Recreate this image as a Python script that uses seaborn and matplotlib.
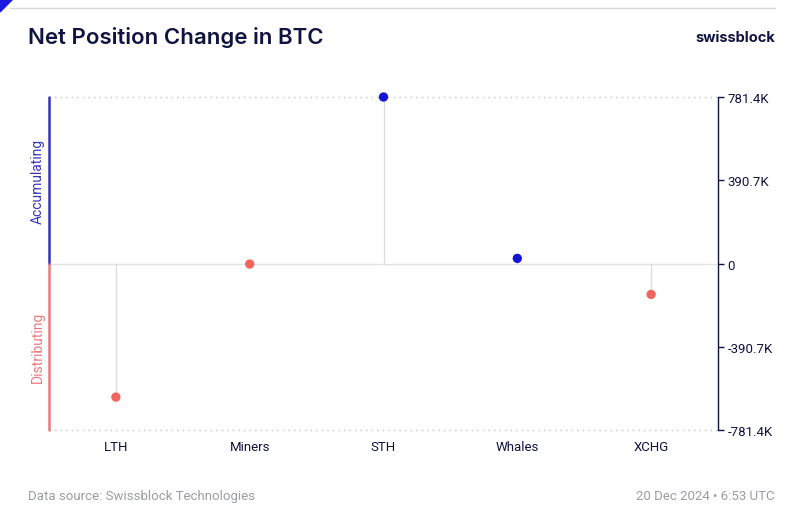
import numpy as np
import pandas as pd
import seaborn as sns
import matplotlib.pyplot as plt
from matplotlib.patches import Polygon
from matplotlib.lines import Line2D

# Data
categories = ["LTH", "Miners", "STH", "Whales", "XCHG"]
net_change = [-627000, -2500, 781400, 24000, -145000]
tick_labels = ["-781.4K", "-390.7K", "0", "390.7K", "781.4K"]

navy = "#10133f"
blue = "#1414d6"
red = "#f2645e"
grey_txt = "#9a9ca6"

df = pd.DataFrame({"group": categories, "change": net_change})
df["side"] = np.where(df["change"] > 0, "acc", "dist")

sns.set_theme(style="white")
plt.rcParams["font.family"] = ["Roboto", "DejaVu Sans"]

fig = plt.figure(figsize=(7.95, 5.1), dpi=100)
ax = fig.add_axes([49 / 795, 1 - 431 / 510, (718 - 49) / 795, (431 - 98) / 510])

ymax = max(abs(v) for v in net_change)

# stems and reference lines
ax.vlines(df["group"], 0, df["change"], color="#dcdde2", lw=1, zorder=1)
ax.axhline(0, color="#e1e2e6", lw=1, zorder=0)
for yv in (ymax, -ymax):
    ax.axhline(yv, color="#c4c5cc", lw=1, ls=(0, (1, 3)), zorder=0, clip_on=False)

sns.scatterplot(data=df, x="group", y="change", hue="side",
                palette={"acc": blue, "dist": red}, s=45, edgecolor="none",
                legend=False, ax=ax, zorder=3, clip_on=False)

ax.set_xlim(-0.5, len(categories) - 0.5)
ax.set_ylim(-ymax, ymax)
ax.set_xlabel("")
ax.set_ylabel("")

# right axis
ax.yaxis.tick_right()
ax.set_yticks(np.linspace(-ymax, ymax, 5))
ax.set_yticklabels(tick_labels)
ax.tick_params(axis="y", right=True, length=4, width=1, color=navy, pad=3,
               labelsize=9.5, labelcolor=navy)
ax.tick_params(axis="x", bottom=False, labelsize=9.5, labelcolor=navy, pad=1)

for s in ["top", "bottom", "left"]:
    ax.spines[s].set_visible(False)
ax.spines["right"].set_color(navy)
ax.spines["right"].set_linewidth(1)

# left split spine
ax.add_line(Line2D([0, 0], [0.5, 1], transform=ax.transAxes, color="#3535b8",
                   lw=1.8, clip_on=False))
ax.add_line(Line2D([0, 0], [0, 0.5], transform=ax.transAxes, color="#e87b7d",
                   lw=1.8, clip_on=False))
ax.text(-0.006, 0.75, "Accumulating", transform=ax.transAxes, rotation=90,
        ha="right", va="center", color="#3535b8", fontsize=10)
ax.text(-0.006, 0.25, "Distributing", transform=ax.transAxes, rotation=90,
        ha="right", va="center", color="#e87b7d", fontsize=10)

# header and footer
fig.text(28 / 795, 1 - 37 / 510, "Net Position Change in BTC", fontsize=16,
         fontweight="semibold", color=navy, va="center", ha="left",
         family=["Inter", "DejaVu Sans"])
fig.text(775 / 795, 1 - 38 / 510, "swissblock", fontsize=10.5, fontweight="bold",
         color=navy, va="center", ha="right", family=["Inter", "DejaVu Sans"])
fig.add_artist(Line2D([10 / 795, 775 / 795], [1 - 9 / 510, 1 - 9 / 510],
                      color="#d6d7dc", lw=1))
fig.add_artist(Polygon([[0, 1], [13 / 795, 1], [0, 1 - 13 / 510]], closed=True,
                       color="#1a1ae0", transform=fig.transFigure))
fig.text(28 / 795, 1 - 497 / 510, "Data source: Swissblock Technologies",
         fontsize=9.5, color=grey_txt, va="center", ha="left")
fig.text(775 / 795, 1 - 497 / 510, "20 Dec 2024 \u2022 6:53 UTC",
         fontsize=9.5, color=grey_txt, va="center", ha="right")

fig.savefig("out.png", dpi=100)
